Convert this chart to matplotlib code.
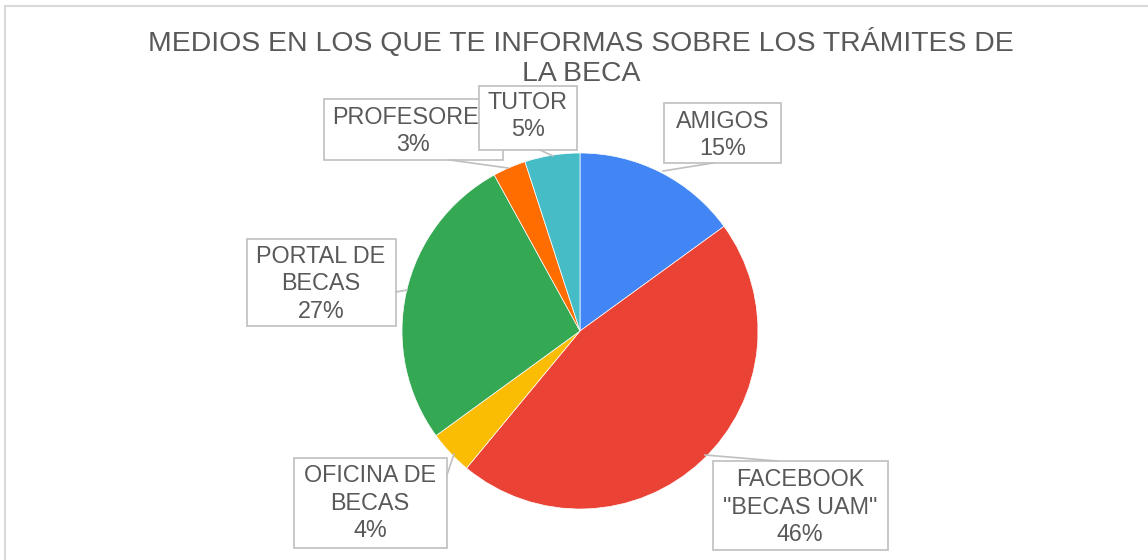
import matplotlib.pyplot as plt
from matplotlib.patches import Rectangle

plt.rcParams['font.family'] = ['Liberation Sans', 'DejaVu Sans']

# data
categories = ["AMIGOS", 'FACEBOOK\n"BECAS UAM"', "OFICINA DE\nBECAS",
              "PORTAL DE\nBECAS", "PROFESORES", "TUTOR"]
values = [15, 46, 4, 27, 3, 5]
colors = ["#4285F4", "#EA4335", "#FBBC04", "#34A853", "#FF6D01", "#46BDC6"]
title = ["MEDIOS EN LOS QUE TE INFORMAS SOBRE LOS TRÁMITES DE", "LA BECA"]

W, H = 1148, 560
fig = plt.figure(figsize=(W / 100, H / 100), dpi=100)
ax = fig.add_axes([0, 0, 1, 1])


def Y(y):
    return H - y


ax.pie(values, colors=colors, startangle=90, counterclock=False,
       center=(580, Y(331)), radius=178, frame=True,
       wedgeprops=dict(edgecolor='white', linewidth=0.5))
ax.set_xlim(0, W)
ax.set_ylim(0, H)
ax.set_aspect('equal')
ax.axis('off')

# chart border (cropped)
ax.plot([5, W], [Y(6), Y(6)], color='#D9D9D9', lw=1.5)
ax.plot([5, 5], [Y(6), 0], color='#D9D9D9', lw=1.5)

# title
ax.text(581, Y(43), title[0], ha='center', va='center', fontsize=20.4, color='#595959')
ax.text(581, Y(74), title[1], ha='center', va='center', fontsize=20.4, color='#595959')

# label boxes: (x0, y0, x1, y1), text centre, leader line
boxes = [
    ((664, 103, 781, 163), (723, 135), [(663, 171), (713, 163)]),
    ((713, 461, 888, 550), (800, 507), [(705, 455), (777, 461)]),
    ((294, 458, 447, 548), (370, 503), [(454, 454), (447, 475)]),
    ((247, 239, 396, 326), (321, 284), [(407, 290), (396, 292)]),
    ((324, 99, 503, 160), (413, 131), [(508, 168), (450, 160)]),
    ((479, 86, 577, 150), (528, 116), [(553, 156), (540, 150)]),
]

for i, (name, v) in enumerate(zip(categories, values)):
    (x0, y0, x1, y1), (tx, ty), line = boxes[i]
    z = 3 + 2 * i
    ax.add_patch(Rectangle((x0, Y(y1)), x1 - x0, y1 - y0, facecolor='white',
                           edgecolor='#BFBFBF', lw=1.2, zorder=z))
    ax.plot([p[0] for p in line], [Y(p[1]) for p in line], color='#BFBFBF',
            lw=1.2, zorder=z)
    ax.text(tx, Y(ty), f"{name}\n{v}%", ha='center', va='center', fontsize=16.8,
            color='#595959', linespacing=1.24, zorder=z + 1)

fig.savefig('out.png', dpi=100)
